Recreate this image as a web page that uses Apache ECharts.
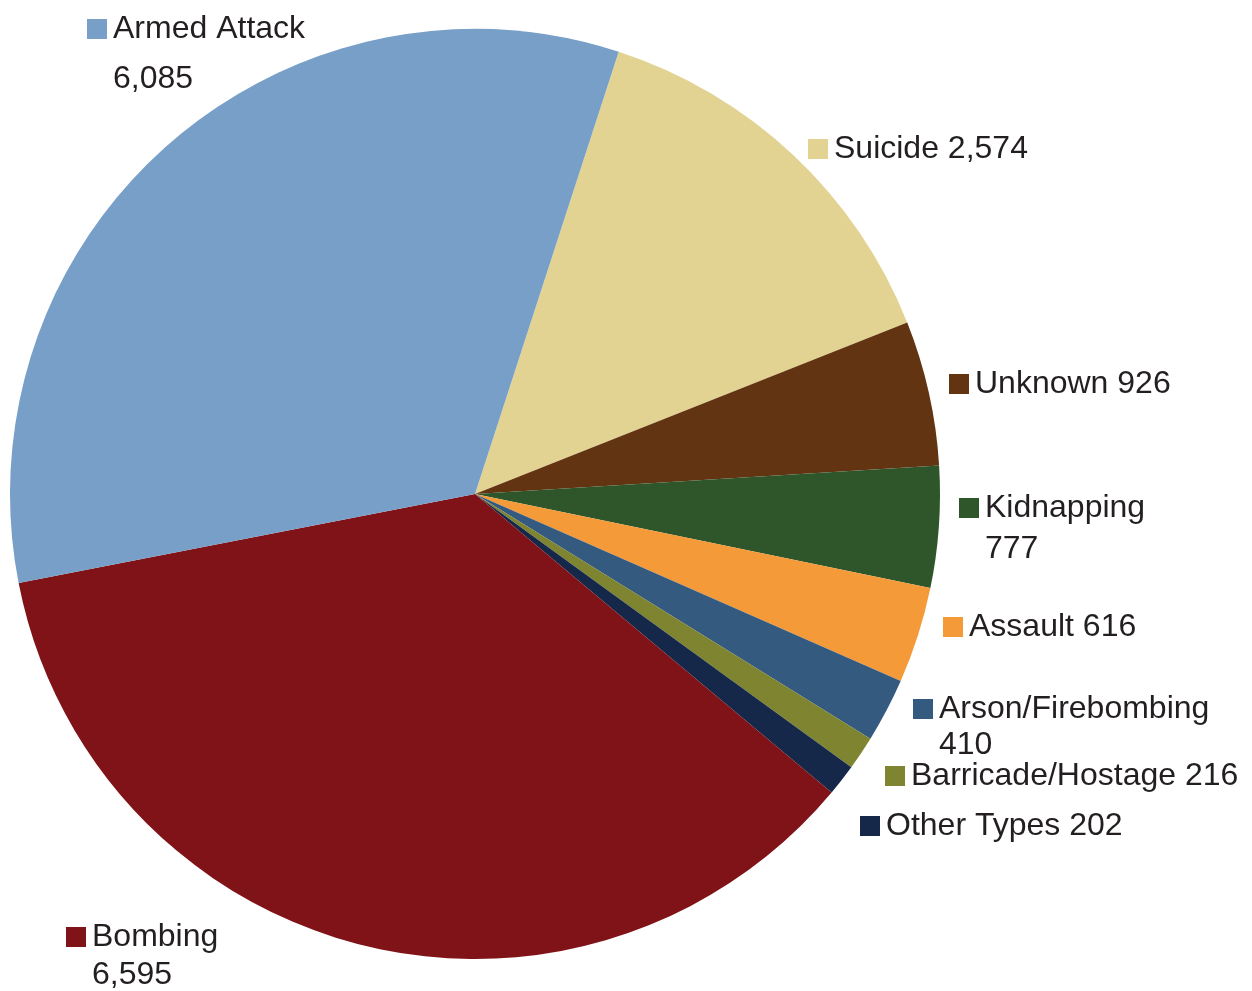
<!DOCTYPE html>
<html>
<head>
<meta charset="utf-8">
<script src="https://cdn.jsdelivr.net/npm/echarts@6/dist/echarts.min.js"></script>
<style>
html,body{margin:0;padding:0;background:#fff;}
#chart{width:1252px;height:991px;}
</style>
</head>
<body>
<div id="chart"></div>
<script>
// Data (clockwise order starting at the Armed Attack / Suicide boundary)
var categories = ['Suicide', 'Unknown', 'Kidnapping', 'Assault', 'Arson/Firebombing', 'Barricade/Hostage', 'Other Types', 'Bombing', 'Armed Attack'];
var values = [2574, 926, 777, 616, 410, 216, 202, 6595, 6085];
var colors = ['#E2D393', '#633412', '#2F562B', '#F59A38', '#355A80', '#7F8431', '#15284A', '#801317', '#779FC8'];
// whether the value goes on a second line
var wrapValue = [false, false, true, false, true, false, false, true, true];

// label layout: [left of key square, first line centre y, line height]
var labelPos = [
  [808, 149, 36],
  [949, 384, 36],
  [959, 508, 41],
  [943, 627, 36],
  [913, 709, 36],
  [885, 776, 36],
  [860, 826, 36],
  [66, 937, 38],
  [87, 29, 50]
];

function fmt(v) { return v.toLocaleString('en-US'); }

var FONT = 'Liberation Sans, Arial, Helvetica, sans-serif';
var data = categories.map(function (name, i) {
  var lh = labelPos[i][2];
  var txt = wrapValue[i]
    ? '{sq| }{t|' + name + '}\n{p| }{t|' + fmt(values[i]) + '}'
    : '{sq| }{t|' + name + ' ' + fmt(values[i]) + '}';
  return {
    name: name,
    value: values[i],
    itemStyle: { color: colors[i] },
    label: {
      formatter: txt,
      lineHeight: lh,
      rich: {
        sq: { width: 20, height: 20, backgroundColor: colors[i], verticalAlign: 'middle', lineHeight: lh },
        p: { width: 20, height: 20, lineHeight: lh },
        t: { fontFamily: FONT, fontSize: 32, color: '#231F20', padding: [0, 0, 0, 6], lineHeight: lh, verticalAlign: 'middle' }
      }
    }
  };
});

var chart = echarts.init(document.getElementById('chart'), null, { renderer: 'canvas' });
chart.setOption({
  animation: false,
  backgroundColor: '#ffffff',
  series: [{
    type: 'pie',
    center: [475, 494],
    radius: [0, 465],
    startAngle: 72.0,
    clockwise: true,
    avoidLabelOverlap: false,
    silent: true,
    itemStyle: { borderWidth: 0 },
    label: { show: true, position: 'outside', fontFamily: FONT, fontSize: 32, color: '#231F20' },
    labelLine: { show: false },
    emphasis: { disabled: true },
    labelLayout: function (params) {
      var p = labelPos[params.dataIndex];
      return { x: p[0], y: p[1] - p[2] / 2, align: 'left', verticalAlign: 'top', hideOverlap: false };
    },
    data: data
  }]
});
</script>
</body>
</html>
